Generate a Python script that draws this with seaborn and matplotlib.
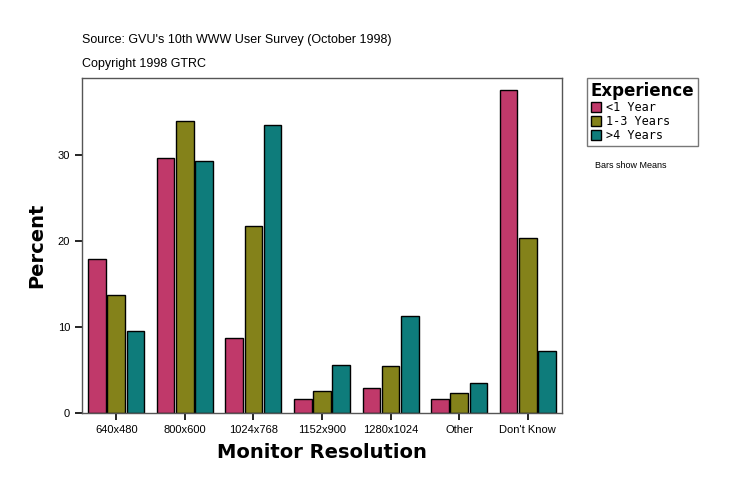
import pandas as pd
import matplotlib
matplotlib.use('Agg')
import matplotlib.pyplot as plt
import seaborn as sns
from matplotlib.patches import Patch

resolutions = ['640x480', '800x600', '1024x768', '1152x900', '1280x1024', 'Other', "Don't Know"]
experience = ['<1 Year', '1-3 Years', '>4 Years']
less_1 = [17.9, 29.6, 8.7, 1.6, 2.9, 1.6, 37.6]
one_3 = [13.7, 33.9, 21.7, 2.6, 5.5, 2.3, 20.3]
over_4 = [9.5, 29.3, 33.5, 5.6, 11.3, 3.5, 7.2]

colors = ['#C0396A', '#84821A', '#0E7C7B']

rows = []
for i, r in enumerate(resolutions):
    for e, vals in zip(experience, [less_1, one_3, over_4]):
        rows.append({'resolution': r, 'experience': e, 'percent': vals[i]})
df = pd.DataFrame(rows)

sns.set_style('white')
plt.rcParams['font.family'] = ['Liberation Sans', 'DejaVu Sans']
plt.rcParams['text.color'] = 'black'
plt.rcParams['axes.labelcolor'] = 'black'
plt.rcParams['xtick.color'] = 'black'
plt.rcParams['ytick.color'] = 'black'

fig = plt.figure(figsize=(7.36, 4.96), dpi=100)
ax = fig.add_axes([82/736, 1 - 413/496, 480/736, 335/496])

sns.barplot(data=df, x='resolution', y='percent', hue='experience', palette=colors,
            saturation=1, width=0.84, gap=0.08, edgecolor='black', linewidth=1,
            ax=ax, legend=False)

ax.set_ylim(0, 38.95)
ax.set_xlim(-0.5, 6.5)
ax.set_yticks([0, 10, 20, 30])
ax.tick_params(axis='both', direction='out', length=5, width=1.2, color='black',
               labelsize=8, left=True, bottom=True)
for s in ax.spines.values():
    s.set_color('#555555')
    s.set_linewidth(1)

ax.set_xlabel('Monitor Resolution', fontsize=14, fontweight='heavy', family='DejaVu Sans', labelpad=6)
ax.set_ylabel('Percent', fontsize=14, fontweight='heavy', family='DejaVu Sans', labelpad=8)

fig.text(82/736, 1 - 40/496, "Source: GVU's 10th WWW User Survey (October 1998)", fontsize=9, va='center')
fig.text(82/736, 1 - 64/496, 'Copyright 1998 GTRC', fontsize=9, va='center')

handles = [Patch(facecolor=c, edgecolor='black', label=l) for c, l in zip(colors, experience)]
leg = fig.legend(handles=handles, title='Experience', loc='upper left',
                 bbox_to_anchor=(587/736, 1 - 78/496), frameon=True, fancybox=False,
                 prop={'family': 'DejaVu Sans Mono', 'size': 8.5}, handlelength=0.9,
                 handleheight=0.9, handletextpad=0.4, labelspacing=0.1, borderpad=0.3,
                 borderaxespad=0)
leg.get_title().set_fontsize(12)
leg.get_title().set_fontweight('heavy')
leg.get_title().set_family('DejaVu Sans')
leg._legend_box.align = 'left'
leg.get_frame().set_edgecolor('#555555')
leg.get_frame().set_linewidth(1)

fig.text(595/736, 1 - 165/496, 'Bars show Means', fontsize=6.5, va='center')

fig.savefig('out.png', dpi=100)
